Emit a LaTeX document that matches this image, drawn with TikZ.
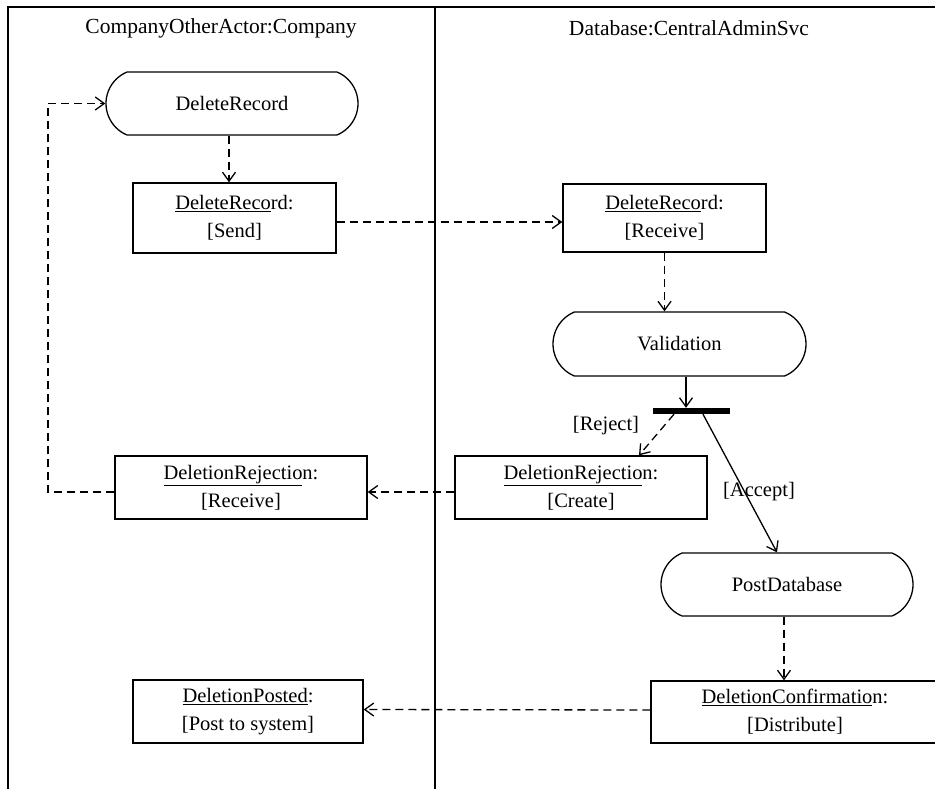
\documentclass[tikz,border=0pt]{standalone}
\usepackage{fontspec}
\setmainfont{Liberation Serif}
\usetikzlibrary{shapes.misc,arrows.meta,calc}
\tikzset{
  txt/.style={font=\fontsize{20.5}{28}\selectfont, inner sep=0pt, align=center},
  hdr/.style={font=\fontsize{21.5}{28}\selectfont, inner sep=0pt, align=center},
  actbox/.style={txt, draw, line width=1.3pt, rounded rectangle, rounded rectangle arc length=135},
  objbox/.style={txt, draw, line width=1.4pt, rectangle},
  dflow/.style={line width=1.3pt, dash pattern=on 8pt off 5pt, -{Straight Barb[length=9pt,width=13pt]}},
  sflow/.style={line width=1.3pt, -{Straight Barb[length=9pt,width=13pt]}},
  frame/.style={line width=1.6pt},
}
\begin{document}
\begin{tikzpicture}[x=1pt,y=-1pt]
\clip (0,0) rectangle (935,788);
\fill[white] (0,0) rectangle (935,788);
% frame
\draw[frame] (8,790) -- (8,7) -- (937,7);
\draw[line width=2.4pt] (435,7) -- (435,790);
\node[hdr] (h1) at (221,28) {CompanyOtherActor:Company};
\node[hdr] (h2) at (689,28) {Database:CentralAdminSvc};
% nodes
\node[actbox, minimum width=252pt, minimum height=63pt] (DR) at (232,103.5) {DeleteRecord};
\node[objbox, minimum width=203pt, minimum height=70pt] (Send) at (234.5,218) {\underline{DeleteReco}rd:\\{[}Send{]}};
\node[objbox, minimum width=203pt, minimum height=68pt] (Recv) at (664.5,218) {\underline{DeleteReco}rd:\\{[}Receive{]}};
\node[actbox, minimum width=253pt, minimum height=64pt] (Val) at (679.5,344) {Validation};
\node[fill=black, inner sep=0pt, minimum width=77pt, minimum height=6pt] (Bar) at (691.5,411) {};
\node[objbox, minimum width=252pt, minimum height=63pt] (Create) at (581,487.5) {\underline{DeletionRejectio}n:\\{[}Create{]}};
\node[objbox, minimum width=252pt, minimum height=63pt] (RejRecv) at (241,487.5) {\underline{DeletionRejectio}n:\\{[}Receive{]}};
\node[actbox, minimum width=252pt, minimum height=63pt] (Post) at (787,584.5) {PostDatabase};
\node[objbox, minimum width=288pt, minimum height=62pt] (Conf) at (795,712) {\underline{DeletionConfirmatio}n:\\{[}Distribute{]}};
\node[objbox, minimum width=230pt, minimum height=63pt] (Posted) at (248,711.5) {\underline{DeletionPosted}:\\{[}Post to system{]}};
\node[txt] (lrej) at (606,426) {{[}Reject{]}};
\node[txt] (lacc) at (759,492) {{[}Accept{]}};
\coordinate (loop) at (48,103.5);
% connectors
\draw[dflow] ([xshift=-3pt]DR.south) -- ([xshift=-3pt]DR.south |- Send.north);
\draw[dflow] ([yshift=-4pt]Send.east) -- ([yshift=-4pt]Recv.west);
\draw[dflow] (Recv.south) -- (Recv.south |- Val.north);
\draw[sflow] ([xshift=6.5pt]Val.south) -- ([xshift=6.5pt]Val.south |- Bar.north);
\draw[dflow] ([xshift=-17.5pt]Bar.south) -- ([xshift=58pt]Create.north);
\draw[sflow] ([xshift=11.5pt]Bar.south) -- ([xshift=-10pt]Post.north);
\draw[dflow] ([xshift=-3pt]Post.south) -- ([xshift=-3pt]Post.south |- Conf.north);
\draw[dflow] ([yshift=2pt]Conf.west) -- ([yshift=2pt]Posted.east);
\draw[dflow] ([yshift=-4.5pt]Create.west) -- ([yshift=-4.5pt]RejRecv.east);
\draw[dflow] ([yshift=-4.5pt]RejRecv.west) -| (loop) -- (DR.west);
\end{tikzpicture}
\end{document}
